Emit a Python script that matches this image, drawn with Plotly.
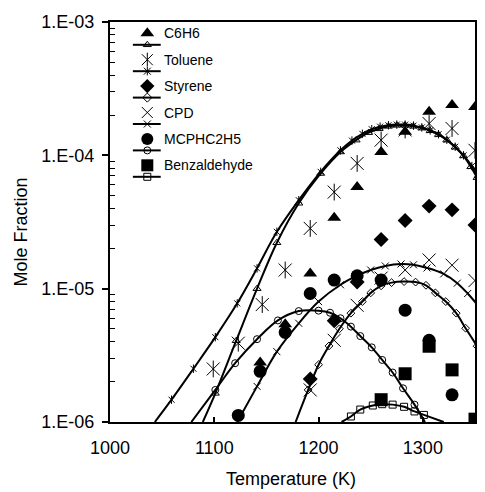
import plotly.graph_objects as go

# ---------------- experimental data ----------------
T_c6h6 = [1144, 1168, 1192, 1215, 1237, 1260, 1283, 1306, 1328, 1350]
c6h6 = [2.8e-6, 5.4e-6, 1.3e-5, 3.4e-5, 5.8e-5, 1.06e-4, 1.5e-4, 2.12e-4, 2.38e-4, 2.3e-4]

T_tol = [1099, 1123, 1146, 1168, 1192, 1215, 1237, 1260, 1283, 1306, 1328, 1350]
tol = [2.5e-6, 3.9e-6, 7.6e-6, 1.38e-5, 2.83e-5, 5.3e-5, 8.7e-5, 1.3e-4, 1.55e-4, 1.73e-4, 1.59e-4, 1.09e-4]

T_sty = [1192, 1215, 1237, 1260, 1283, 1306, 1328, 1350]
sty = [2.1e-6, 5.75e-6, 1.12e-5, 2.34e-5, 3.24e-5, 4.16e-5, 3.9e-5, 3.0e-5]

T_cpd = [1192, 1215, 1237, 1260, 1283, 1306, 1328, 1350]
cpd = [1.74e-6, 4.1e-6, 7.5e-6, 1.2e-5, 1.38e-5, 1.64e-5, 1.5e-5, 1.15e-5]

T_mcp = [1123, 1144, 1168, 1192, 1215, 1237, 1260, 1283, 1306, 1328]
mcp = [1.12e-6, 2.4e-6, 4.7e-6, 9.2e-6, 1.16e-5, 1.25e-5, 1.16e-5, 6.9e-6, 4.1e-6, 1.6e-6]

T_bzd = [1260, 1283, 1306, 1328, 1350]
bzd = [1.47e-6, 2.3e-6, 3.7e-6, 2.46e-6, 1.05e-6]

# ---------------- model curves ----------------
Tm_c6h6 = [1089, 1101, 1121, 1141, 1160, 1181, 1202, 1221, 1236, 1248, 1258, 1267, 1275,
           1283, 1291, 1299, 1307, 1315, 1323, 1331, 1339, 1346, 1352]
m_c6h6 = [1.0e-6, 1.64e-6, 4.07e-6, 1.0e-5, 2.21e-5, 4.37e-5, 7.31e-5, 1.06e-4, 1.30e-4, 1.48e-4,
          1.58e-4, 1.65e-4, 1.68e-4, 1.68e-4, 1.65e-4, 1.60e-4, 1.53e-4, 1.43e-4, 1.30e-4,
          1.15e-4, 9.9e-5, 8.2e-5, 6.8e-5]

Tm_tol = [1043, 1059, 1080, 1101, 1122, 1141, 1160, 1181, 1202, 1221, 1232, 1242, 1251, 1259,
          1267, 1275, 1283, 1291, 1299, 1307, 1315, 1323, 1331, 1339, 1347, 1352]
m_tol = [1.0e-6, 1.47e-6, 2.51e-6, 4.33e-6, 7.76e-6, 1.42e-5, 2.67e-5, 4.61e-5, 7.52e-5, 1.09e-4,
         1.29e-4, 1.45e-4, 1.57e-4, 1.64e-4, 1.68e-4, 1.70e-4, 1.70e-4, 1.67e-4, 1.62e-4,
         1.54e-4, 1.44e-4, 1.31e-4, 1.16e-4, 1.0e-4, 8.3e-5, 7.2e-5]

Tm_sty = [1178, 1190, 1200, 1210, 1220, 1231, 1242, 1250, 1260, 1270, 1282, 1293, 1303, 1312,
          1322, 1332, 1341, 1352]
m_sty = [1.0e-6, 1.74e-6, 2.69e-6, 3.72e-6, 5.0e-6, 6.55e-6, 8.0e-6, 9.3e-6, 1.05e-5, 1.11e-5,
         1.13e-5, 1.12e-5, 1.06e-5, 9.3e-6, 8.0e-6, 6.55e-6, 5.05e-6, 3.7e-6]

Tm_cpd = [1122, 1141, 1160, 1181, 1200, 1221, 1235, 1250, 1264, 1279, 1291, 1304, 1320, 1333,
          1343, 1354]
m_cpd = [1.0e-6, 1.85e-6, 3.37e-6, 5.5e-6, 8.0e-6, 1.07e-5, 1.23e-5, 1.38e-5, 1.48e-5, 1.53e-5,
         1.51e-5, 1.43e-5, 1.29e-5, 1.10e-5, 9.2e-6, 7.3e-6]

Tm_mcp = [1078, 1101, 1120, 1141, 1161, 1181, 1200, 1211, 1221, 1231, 1240, 1251, 1261, 1271,
          1281, 1292, 1302]
m_mcp = [1.0e-6, 1.74e-6, 2.76e-6, 4.18e-6, 5.78e-6, 6.79e-6, 6.84e-6, 6.6e-6, 6.0e-6, 5.19e-6,
         4.41e-6, 3.63e-6, 2.92e-6, 2.35e-6, 1.79e-6, 1.35e-6, 1.0e-6]

Tm_bzd = [1222, 1231, 1240, 1252, 1261, 1271, 1282, 1292, 1301, 1320]
m_bzd = [1.0e-6, 1.10e-6, 1.24e-6, 1.33e-6, 1.36e-6, 1.35e-6, 1.30e-6, 1.20e-6, 1.13e-6, 1.0e-6]

legend_names = ["C6H6", "Toluene", "Styrene", "CPD", "MCPHC2H5", "Benzaldehyde"]
y_tickvals = [1e-6, 1e-5, 1e-4, 1e-3]
y_ticktext = ["1.E-06", "1.E-05", "1.E-04", "1.E-03"]
x_tickvals = [1000, 1100, 1200, 1300]

FONT = "Arial, Liberation Sans, sans-serif"
BLACK = "black"

fig = go.Figure()


def add_model(T, y, symbols, size):
    fig.add_trace(go.Scatter(x=T, y=y, mode="lines", line=dict(color=BLACK, width=2, shape="spline"),
                             hoverinfo="skip"))
    vis = [(t, v) for t, v in zip(T, y) if v > 1.0e-6]
    for sym, sz in zip(symbols, size):
        fig.add_trace(go.Scatter(x=[p[0] for p in vis], y=[p[1] for p in vis], mode="markers",
                                 marker=dict(symbol=sym, size=sz, color=BLACK,
                                             line=dict(color=BLACK, width=1))))


add_model(Tm_tol, m_tol, ["x-thin-open", "line-ns-open"], [6, 6])
add_model(Tm_c6h6, m_c6h6, ["triangle-up-open"], [7])
add_model(Tm_cpd, m_cpd, ["x-thin-open"], [7])
add_model(Tm_sty, m_sty, ["diamond-open"], [6])
add_model(Tm_mcp, m_mcp, ["circle-open"], [7])
add_model(Tm_bzd, m_bzd, ["square-open"], [7])


def add_data(T, y, symbol, size, lw=0):
    fig.add_trace(go.Scatter(x=T, y=y, mode="markers",
                             marker=dict(symbol=symbol, size=size, color=BLACK,
                                         line=dict(color=BLACK, width=lw))))


add_data(T_c6h6, c6h6, "triangle-up", 12)
add_data(T_tol, tol, "x-thin-open", 13, 1)
add_data(T_tol, tol, "line-ns-open", 12, 1)
add_data(T_sty, sty, "diamond", 11.5)
add_data(T_cpd, cpd, "x-thin-open", 13, 1)
add_data(T_mcp, mcp, "circle", 13)
add_data(T_bzd, bzd, "square", 13)

# ---------------- manual legend (overlay pixel axes) ----------------
leg_data_sym = [("triangle-up", 12, 0), ("x-thin-open", 11, 1), ("diamond", 11, 0),
                ("x-thin-open", 11, 1), ("circle", 12, 0), ("square", 12, 0)]
leg_model_sym = ["triangle-up-open", "x-thin-open", "diamond-open", "x-thin-open", "circle-open", "square-open"]
row0, step, sub = 33.3, 26.4, 11.5
xm, xl0, xl1, xt = 147.5, 133, 161, 162
annotations = []
for i, name in enumerate(legend_names):
    yd = row0 + i * step
    ym = yd + sub
    sym, sz, lw = leg_data_sym[i]
    fig.add_trace(go.Scatter(x=[xm], y=[yd], xaxis="x2", yaxis="y2", mode="markers",
                             marker=dict(symbol=sym, size=sz, color=BLACK, line=dict(color=BLACK, width=lw))))
    if name == "Toluene":
        fig.add_trace(go.Scatter(x=[xm], y=[yd], xaxis="x2", yaxis="y2", mode="markers",
                                 marker=dict(symbol="line-ns-open", size=10, color=BLACK,
                                             line=dict(color=BLACK, width=1))))
    fig.add_trace(go.Scatter(x=[xl0, xl1], y=[ym, ym], xaxis="x2", yaxis="y2", mode="lines",
                             line=dict(color=BLACK, width=2)))
    fig.add_trace(go.Scatter(x=[xm], y=[ym], xaxis="x2", yaxis="y2", mode="markers",
                             marker=dict(symbol=leg_model_sym[i], size=7, color=BLACK,
                                         line=dict(color=BLACK, width=1))))
    if name == "Toluene":
        fig.add_trace(go.Scatter(x=[xm], y=[ym], xaxis="x2", yaxis="y2", mode="markers",
                                 marker=dict(symbol="line-ns-open", size=6, color=BLACK,
                                             line=dict(color=BLACK, width=1))))
    annotations.append(dict(x=xt, y=yd, xref="x2", yref="y2", text=name, showarrow=False,
                            xanchor="left", yanchor="middle", font=dict(family=FONT, size=14, color=BLACK)))

annotations.append(dict(x=-0.245, y=0.475, xref="paper", yref="paper", text="Mole Fraction",
                        showarrow=False, textangle=-90, xanchor="center", yanchor="middle",
                        font=dict(family=FONT, size=18, color=BLACK)))
annotations.append(dict(x=0.496, y=-0.1425, xref="paper", yref="paper", text="Temperature (K)",
                        showarrow=False, xanchor="center", yanchor="middle",
                        font=dict(family=FONT, size=18, color=BLACK)))

minor_vals = [k * 10.0 ** e for e in (-6, -5, -4) for k in range(2, 10)]

fig.update_layout(
    width=485, height=492,
    margin=dict(l=110, r=8, t=22, b=70),
    paper_bgcolor="white", plot_bgcolor="white",
    showlegend=False,
    font=dict(family=FONT, size=18, color=BLACK),
    annotations=annotations,
    xaxis=dict(range=[1000, 1350], tickvals=x_tickvals, ticks="inside", ticklen=5, tickwidth=1.5,
               tickcolor=BLACK, showline=True, linewidth=2, linecolor=BLACK, mirror=True,
               showgrid=False, zeroline=False, tickfont=dict(size=18), ticklabelstandoff=8),
    yaxis=dict(type="log", range=[-6, -3], tickvals=y_tickvals, ticktext=y_ticktext,
               ticks="outside", ticklen=6, tickwidth=1.5, tickcolor=BLACK,
               minor=dict(tickvals=minor_vals, ticks="inside", ticklen=5, tickcolor=BLACK, tickwidth=1,
                          showgrid=False),
               showline=True, linewidth=2, linecolor=BLACK, mirror=True, showgrid=False,
               zeroline=False, tickfont=dict(size=18), ticklabelstandoff=4),
    xaxis2=dict(overlaying="x", range=[110, 477], visible=False, anchor="y2"),
    yaxis2=dict(overlaying="y", range=[422, 22], visible=False, anchor="x2"),
)

fig.write_html("out.html")
